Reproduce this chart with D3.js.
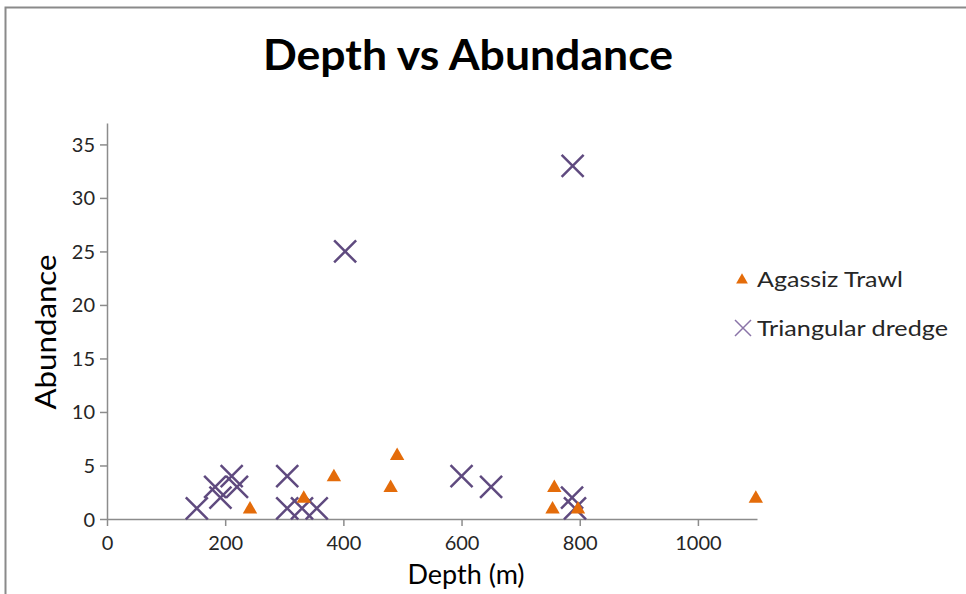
<!DOCTYPE html>
<html>
<head>
<meta charset="utf-8">
<style>
  body { margin: 0; background: #fff; }
  text { font-family: Lato, "Open Sans", sans-serif; }
</style>
</head>
<body>
<script src="https://cdn.jsdelivr.net/npm/d3@7/dist/d3.min.js"></script>
<script>

  // Agassiz Trawl
  const trawlDepth = [242, 333, 384, 480, 491, 757, 754, 797, 1098]
  const trawlAbund = [1, 2, 4, 3, 6, 3, 1, 1, 2]

  // Triangular dredge
  const dredgeDepth = [152, 183, 192, 211, 220, 305, 305, 330, 355, 403, 600, 650, 788, 787, 792]
  const dredgeAbund = [1, 3, 2, 4, 3, 4, 1, 1, 1, 25, 4, 3, 33, 2, 1]

  const xTicks = [0, 200, 400, 600, 800, 1000]
  const yTicks = [0, 5, 10, 15, 20, 25, 30, 35]
  const seriesNames = ["Agassiz Trawl", "Triangular dredge"]

  const width = 966, height = 594
  const colors = {trawl: '#e46c0a', dredge: '#5f4a7f', dredgeKey: '#8a74a8', axis: '#8c8c8c', text: '#262626'}
  const plot = {left: 107, right: 757, top: 123, bottom: 519}

  const svg = d3.select("body").append("svg")
      .attr("width", width)
      .attr("height", height)

  // chart border
  svg.append("rect")
    .attr("x", 5.5).attr("y", 7.5)
    .attr("width", width + 20).attr("height", height + 20)
    .attr("fill", "#fff")
    .attr("stroke", "#8a8a8a")
    .attr("stroke-width", 2)

  const xScale = d3.scaleLinear()
    .domain([0, 1100])
    .range([plot.left, plot.right])

  const yScale = d3.scaleLinear()
    .domain([0, 37])
    .range([plot.bottom, plot.top])

  const xAxis = d3.axisBottom(xScale).tickValues(xTicks).tickFormat(d3.format("d")).tickSize(7).tickSizeOuter(0)
  const yAxis = d3.axisLeft(yScale).tickValues(yTicks).tickSize(7).tickSizeOuter(0)

  const gx = svg.append("g")
    .attr("transform", `translate(0, ${plot.bottom})`)
    .call(xAxis)
  const gy = svg.append("g")
    .attr("transform", `translate(${plot.left}, 0)`)
    .call(yAxis)

  ;[gx, gy].forEach(g => {
    g.select(".domain").attr("stroke", colors.axis).attr("stroke-width", 1.5)
    g.selectAll(".tick line").attr("stroke", colors.axis).attr("stroke-width", 1.5)
    g.selectAll(".tick text")
      .attr("fill", colors.text)
      .style("font-family", "Lato")
      .style("font-size", "20px")
  })
  gx.selectAll(".tick text").attr("dy", "1.05em")
  gy.selectAll(".tick text").attr("x", -12).attr("dy", "0.35em")

  // title
  svg.append("text")
    .attr("x", 468).attr("y", 70)
    .attr("text-anchor", "middle")
    .attr("textLength", 410)
    .attr("lengthAdjust", "spacingAndGlyphs")
    .style("font-weight", "bold")
    .style("font-size", "42px")
    .attr("fill", "#000")
    .text("Depth vs Abundance")

  // axis titles
  svg.append("text")
    .attr("x", 466).attr("y", 584)
    .attr("text-anchor", "middle")
    .style("font-size", "27px")
    .attr("fill", "#000")
    .text("Depth (m)")

  svg.append("text")
    .attr("transform", `translate(56, 332) rotate(-90)`)
    .attr("text-anchor", "middle")
    .attr("textLength", 155)
    .attr("lengthAdjust", "spacingAndGlyphs")
    .style("font-size", "29px")
    .attr("fill", "#000")
    .text("Abundance")

  const triangle = d3.symbol().type(d3.symbolTriangle).size(90)

  function crossPath(r) {
    return `M${-r},${-r}L${r},${r}M${-r},${r}L${r},${-r}`
  }

  // dredge crosses
  svg.append("g").selectAll("path")
    .data(d3.zip(dredgeDepth, dredgeAbund))
    .join("path")
      .attr("transform", d => `translate(${xScale(d[0])}, ${yScale(d[1])})`)
      .attr("d", crossPath(11))
      .attr("stroke", colors.dredge)
      .attr("stroke-width", 2.5)
      .attr("fill", "none")

  // trawl triangles
  svg.append("g").selectAll("path")
    .data(d3.zip(trawlDepth, trawlAbund))
    .join("path")
      .attr("transform", d => `translate(${xScale(d[0])}, ${yScale(d[1]) + 1})`)
      .attr("d", triangle)
      .attr("fill", colors.trawl)

  // legend
  const legend = svg.append("g")
  legend.append("path")
    .attr("transform", "translate(742, 280)")
    .attr("d", d3.symbol().type(d3.symbolTriangle).size(60))
    .attr("fill", colors.trawl)
  legend.append("path")
    .attr("transform", "translate(743, 328)")
    .attr("d", crossPath(8))
    .attr("stroke", colors.dredgeKey)
    .attr("stroke-width", 1.5)
    .attr("fill", "none")
  legend.selectAll(".legText")
    .data(seriesNames)
    .join("text")
      .attr("class", "legText")
      .attr("x", 757)
      .attr("y", (d, i) => 279 + i * 49)
      .attr("dy", "0.35em")
      .attr("textLength", (d, i) => [146, 191][i])
      .attr("lengthAdjust", "spacingAndGlyphs")
      .style("font-size", "22px")
      .attr("fill", colors.text)
      .text(d => d)

</script>
</body>
</html>
